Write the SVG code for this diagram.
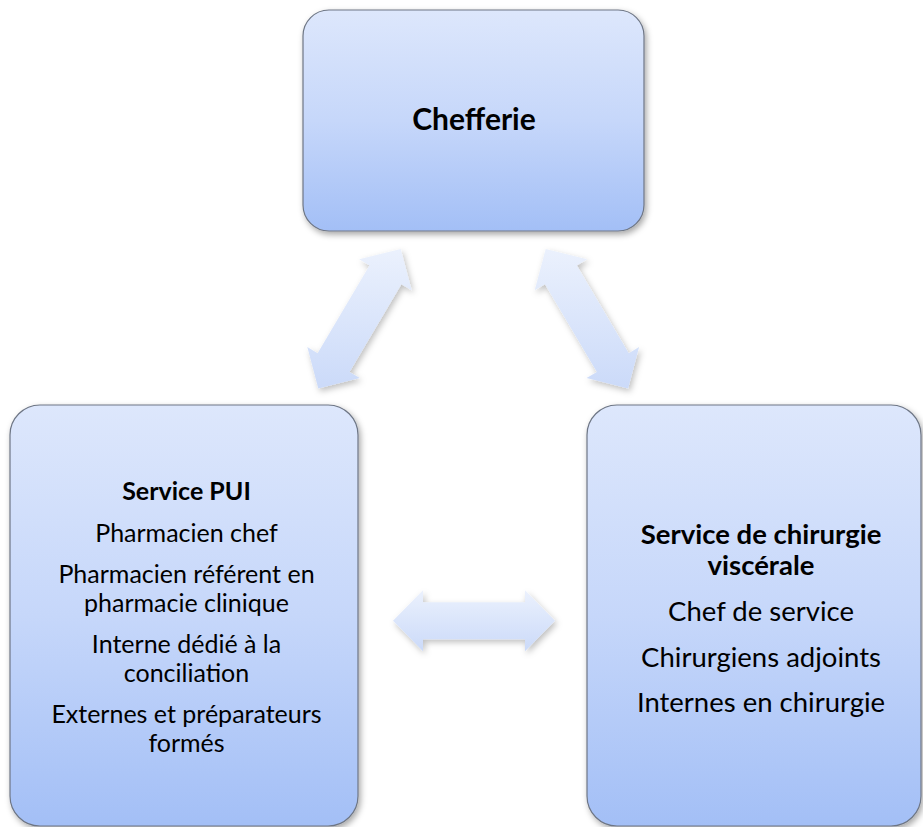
<svg xmlns="http://www.w3.org/2000/svg" width="923" height="827" viewBox="0 0 923 827">
<defs>
<linearGradient id="boxGrad" x1="0" y1="0" x2="0" y2="1">
<stop offset="0" stop-color="#dde7fc"/>
<stop offset="0.5" stop-color="#c6d7fa"/>
<stop offset="1" stop-color="#a3bff6"/>
</linearGradient>
<linearGradient id="arrowGrad" x1="0" y1="0" x2="0" y2="1">
<stop offset="0" stop-color="#ebf1fd"/>
<stop offset="1" stop-color="#cbdaf9"/>
</linearGradient>
<filter id="shadow" x="-20%" y="-20%" width="140%" height="140%">
<feDropShadow dx="2" dy="3" stdDeviation="3" flood-color="#000" flood-opacity="0.35"/>
</filter>
<filter id="ashadow" x="-20%" y="-20%" width="140%" height="140%">
<feDropShadow dx="2" dy="3" stdDeviation="3" flood-color="#000" flood-opacity="0.25"/>
</filter>
</defs>
<style>
.box { fill: url(#boxGrad); stroke: #6e7685; stroke-width: 1.2; filter: url(#shadow); }
.arrow { fill: url(#arrowGrad); stroke: none; filter: url(#ashadow); }
text { font-family: Lato, "Liberation Sans", sans-serif; fill: #000; text-anchor: middle; }
.b { font-weight: bold; }
.t { font-size: 30px; }
.l { font-size: 25px; }
.r { font-size: 27.5px; }
</style>
<rect width="923" height="827" fill="#ffffff"/>
<g id="connectors">
<polygon class="arrow" points="555,620.7 525,590.2 525,602.2 423,602.2 423,590.2 393,620.7 423,651.2 423,639.2 525,639.2 525,651.2"/>
<polygon class="arrow" points="400.7,249.0 359.2,259.3 369.5,265.4 317.6,353.2 307.3,347.1 318.3,388.4 359.8,378.1 349.5,372.0 401.4,284.2 411.7,290.3"/>
<polygon class="arrow" points="545.7,249.0 587.2,259.3 576.9,265.4 628.8,353.2 639.1,347.1 628.1,388.4 586.6,378.1 596.9,372.0 545.0,284.2 534.7,290.3"/>
</g>
<g id="chefferie">
<rect class="box" x="303" y="10" width="341" height="221" rx="26" ry="26"/>
<text class="b t" x="474" y="130">Chefferie</text>
</g>
<g id="service-pui">
<rect class="box" x="10" y="405" width="348" height="421" rx="30" ry="30"/>
<text class="b l" x="186.5" y="500">Service PUI</text>
<text class="l" x="186.5" y="541.7">Pharmacien chef</text>
<text class="l" x="186.5" y="583">Pharmacien référent en</text>
<text class="l" x="186.5" y="611.7">pharmacie clinique</text>
<text class="l" x="186.5" y="653">Interne dédié à la</text>
<text class="l" x="186.5" y="681.7">conciliation</text>
<text class="l" x="186.5" y="723.3">Externes et préparateurs</text>
<text class="l" x="186.5" y="751.7">formés</text>
</g>
<g id="service-chirurgie">
<rect class="box" x="587" y="405" width="334" height="421" rx="30" ry="30"/>
<text class="b r" x="761" y="544">Service de chirurgie</text>
<text class="b r" x="761" y="575">viscérale</text>
<text class="r" x="761" y="620.7">Chef de service</text>
<text class="r" x="761" y="666.7">Chirurgiens adjoints</text>
<text class="r" x="761" y="711.7">Internes en chirurgie</text>
</g>
</svg>
